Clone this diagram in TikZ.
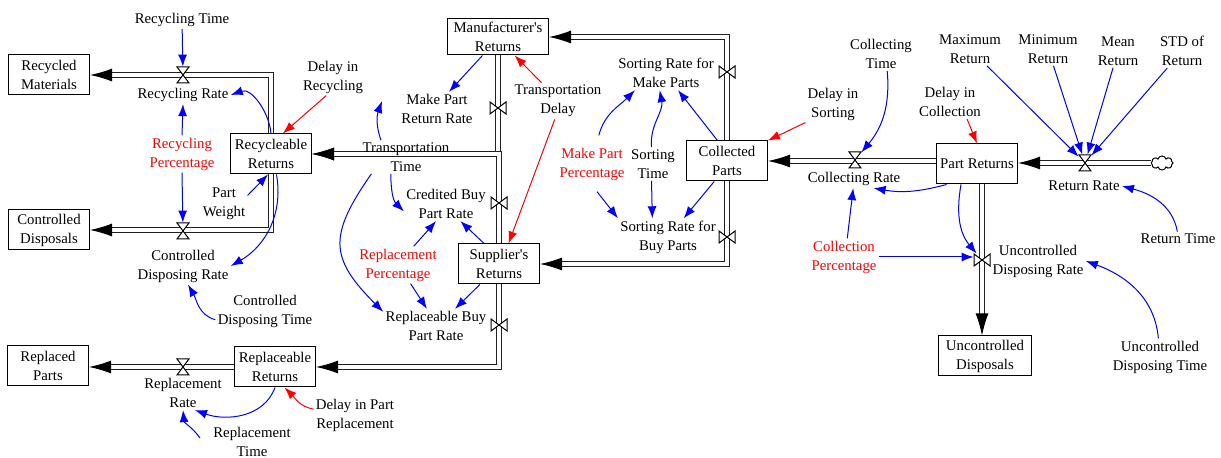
\documentclass[tikz,border=0pt]{standalone}
\usepackage{fontspec}
\setmainfont{Liberation Serif}
\usepackage{xcolor}
\usetikzlibrary{arrows.meta,shapes.symbols}
\definecolor{linkblue}{HTML}{0000FF}
\definecolor{linkred}{HTML}{FF0000}
\definecolor{pipegray}{HTML}{202020}

\begin{document}
\begin{tikzpicture}[
    x=0.5pt, y=-0.5pt,
    font=\fontsize{7.4}{9.5}\selectfont,
    stock/.style={
      draw,
      line width=0.5pt,
      minimum width=40.5pt,
      minimum height=20pt,
      inner sep=1pt,
      align=center
    },
    aux/.style={
      inner sep=1pt,
      align=center
    },
    param/.style={
      aux,
      text=linkred
    },
    valve/.style={inner sep=0pt, minimum width=6pt, minimum height=8pt},
    valvev/.style={inner sep=0pt, minimum width=8pt, minimum height=6pt},
    hglass/.pic={
      \draw[fill=white, line width=0.5pt] (-6,-8) -- (6,-8) -- (-6,8) -- (6,8) -- cycle;
    },
    bowtie/.pic={
      \draw[fill=white, line width=0.5pt] (-8,-6) -- (-8,6) -- (8,-6) -- (8,6) -- cycle;
    },
    pipe/.style={
      draw=pipegray,
      double=white,
      double distance=1.7pt,
      line width=0.5pt,
      -{Latex[length=11pt, width=6.5pt, color=black]}
    },
    link/.style={
      -{Latex[length=6pt, width=4.5pt]},
      line width=0.5pt,
      linkblue
    },
    redlink/.style={
      link,
      linkred
    }
  ]
  \useasboundingbox (0,0) rectangle (1221,458);

  % stocks
  \node[stock] (rm) at (49,75) {Recycled\\Materials};
  \node[stock] (cd) at (49,230) {Controlled\\Disposals};
  \node[stock] (rr) at (271,154) {Recycleable\\Returns};
  \node[stock] (rp) at (48,366) {Replaced\\Parts};
  \node[stock] (rpr) at (275,367) {Replaceable\\Returns};
  \node[stock, minimum width=50.5pt, minimum height=18pt] (mr) at (498,37) {Manufacturer\textquotesingle s\\Returns};
  \node[stock] (sr) at (499,264) {Supplier\textquotesingle s\\Returns};
  \node[stock] (cp) at (727,161) {Collected\\Parts};
  \node[stock] (pr) at (977,164) {Part Returns};
  \node[stock, minimum width=46.5pt] (ud) at (985,356) {Uncontrolled\\Disposals};
  \node[cloud, draw, cloud puffs=8, aspect=1.6, minimum width=11pt, minimum height=7pt, inner sep=0pt, line width=0.5pt] (src) at (1162,163) {};

  % valves
  \node[valve] (vRec) at (183,75) {};
  \node[valve] (vCon) at (183,231) {};
  \node[valve] (vRep) at (183,367) {};
  \node[valvev] (vMake) at (498,108) {};
  \node[valvev] (vCred) at (499,203) {};
  \node[valvev] (vRepB) at (499,325) {};
  \node[valvev] (vSortM) at (727,72) {};
  \node[valvev] (vSortB) at (727,237) {};
  \node[valve] (vColl) at (855,160) {};
  \node[valve] (vRet) at (1085,163) {};
  \node[valvev] (vUnc) at (982,260) {};

  % flows
  \draw[pipe] (rr.north) |- (rm.east);
  \draw[pipe] (rr.south) |- (cd.east);
  \draw[pipe] (rpr.west) -- (rpr.west -| rp.east);
  \draw[pipe] (mr.south) |- (rr.east);
  \draw[pipe] (sr.north) |- (rr.east);
  \draw[pipe] (sr.south) |- (rpr.east);
  \draw[pipe] (cp.north) |- (mr.east);
  \draw[pipe] (cp.south) |- (sr.east);
  \draw[pipe] (cp.east -| pr.west) -- (cp.east);
  \draw[pipe] (src) -- (src -| pr.east);
  \draw[pipe] (vUnc |- pr.south) -- (vUnc |- ud.north);

  \pic at (vRec) {hglass};
  \pic at (vCon) {hglass};
  \pic at (vRep) {hglass};
  \pic at (vMake) {bowtie};
  \pic at (vCred) {bowtie};
  \pic at (vRepB) {bowtie};
  \pic at (vSortM) {bowtie};
  \pic at (vSortB) {bowtie};
  \pic at (vColl) {hglass};
  \pic at (vRet) {hglass};
  \pic at (vUnc) {bowtie};

  % variables
  \node[aux] (tRecT) at (182,20) {Recycling Time};
  \node[aux] (tRecR) at (183,95) {Recycling Rate};
  \node[param] (tRecP) at (182,154) {Recycling\\Percentage};
  \node[aux] (tPW) at (224,204) {Part\\Weight};
  \node[aux] (tDRec) at (333,77) {Delay in\\Recycling};
  \node[aux] (tCDR) at (183,266) {Controlled\\Disposing Rate};
  \node[aux] (tCDT) at (265,311) {Controlled\\Disposing Time};
  \node[aux] (tRepR) at (183,393) {Replacement\\Rate};
  \node[aux] (tRepT) at (252,442) {Replacement\\Time};
  \node[aux] (tDPR) at (355,415) {Delay in Part\\Replacement};
  \node[aux] (tMPR) at (437,109) {Make Part\\Return Rate};
  \node[aux] (tTD) at (558,101) {Transportation\\Delay};
  \node[aux] (tTT) at (406,157) {Transportation\\Time};
  \node[aux] (tCBR) at (446,204) {Credited Buy\\Part Rate};
  \node[param] (tRP) at (398,265) {Replacement\\Percentage};
  \node[aux] (tRBR) at (436,326) {Replaceable Buy\\Part Rate};
  \node[aux] (tSRM) at (666,73) {Sorting Rate for\\Make Parts};
  \node[param] (tMPP) at (592,164) {Make Part\\Percentage};
  \node[aux] (tST) at (653,164) {Sorting\\Time};
  \node[aux] (tSRB) at (668,237) {Sorting Rate for\\Buy Parts};
  \node[aux] (tDS) at (833,104) {Delay in\\Sorting};
  \node[aux] (tCT) at (881,54) {Collecting\\Time};
  \node[aux] (tCR) at (854,179) {Collecting Rate};
  \node[aux] (tDC) at (950,102) {Delay in\\Collection};
  \node[aux] (tMaxR) at (970,49) {Maximum\\Return};
  \node[aux] (tMinR) at (1048,49) {Minimum\\Return};
  \node[aux] (tMeanR) at (1118,51) {Mean\\Return};
  \node[aux] (tStdR) at (1182,51) {STD of\\Return};
  \node[aux] (tRR) at (1084,186) {Return Rate};
  \node[aux] (tRT) at (1178,239) {Return Time};
  \node[param] (tCP) at (844,257) {Collection\\Percentage};
  \node[aux] (tUDR) at (1038,261) {Uncontrolled\\Disposing Rate};
  \node[aux] (tUDT) at (1160,357) {Uncontrolled\\Disposing Time};

  % links, left part
  \draw[link] (tRecT) -- (vRec);
  \draw[link] (rr.north) to[out=95, in=20] (tRecR.east);
  \draw[link] (tRecP.north) -- (tRecR.south);
  \draw[link] (tRecP.south) -- (vCon);
  \draw[link] (tPW.20) -- ([xshift=-1.5pt]rr.south);
  \draw[redlink] (tDRec.250) -- (rr.60);
  \draw[link] (rr.-75) to[out=-80, in=30] (tCDR.east);
  \draw[link] (tCDT.190) to[out=165, in=-60] (tCDR.-75);
  \draw[link] (rpr.south) to[out=-110, in=-20] (tRepR.-55);
  \draw[link] ([shift={(-11,-4)}]tRepT.west) to[out=125, in=-85] (tRepR.south);
  \draw[redlink] (tDPR.172) to[out=170, in=-45] (rpr.-65);

  % links, middle part
  \draw[link] (mr.-130) -- (tMPR.55);
  \draw[redlink] (tTD.132) -- (mr.-48);
  \draw[redlink] (tTD.-100) -- (sr.65);
  \draw[link] (tTT.146) to[out=110, in=-110] ([shift={(-17,-8)}]tMPR.west);
  \draw[link] (tTT.-132) to[out=-90, in=135] (tCBR.190);
  \draw[link] (tTT.-154) to[out=-125, in=135, looseness=1.4] (tRBR.165);
  \draw[link] (tRP.50) -- (tCBR.-120);
  \draw[link] (sr.126) -- (tCBR.-50);
  \draw[link] (tRP.-56) -- (tRBR.118);
  \draw[link] (sr.-133) -- (tRBR.42);
  \draw[link] ([shift={(0,-10)}]tMPP.70) to[out=75, in=-135] (tSRM.-151);
  \draw[link] (tST.95) to[out=95, in=-80] (tSRM.-110);
  \draw[link] (cp.115) -- (tSRM.-55);
  \draw[link] ([shift={(0,9)}]tMPP.-75) -- (tSRB.north west);
  \draw[link] (tST.-95) -- (tSRB.130);
  \draw[link] (cp.-122) -- (tSRB.50);

  % links, right part
  \draw[redlink] (tDS.south west) -- (cp.north east);
  \draw[link] (tCT.-70) to[out=-85, in=50] (vColl);
  \draw[link] (pr.-146) to[out=-165, in=-10] (tCR.-25);
  \draw[link] (tCP.80) -- (tCR.-95);
  \draw[link] (tCP.east) -- (tCP.east -| vUnc.west);
  \draw[link] (pr.-128) to[out=-100, in=130] (vUnc);
  \draw[redlink] (tDC.-45) -- (pr.north);
  \draw[link] (tMaxR) -- (vRet);
  \draw[link] (tMinR) -- (vRet);
  \draw[link] (tMeanR) -- (vRet);
  \draw[link] (tStdR) -- (vRet);
  \draw[link] (tRT.95) to[out=100, in=-15] (tRR.east);
  \draw[link] (tUDT.95) to[out=95, in=-20] (tUDR.east);
\end{tikzpicture}
\end{document}
